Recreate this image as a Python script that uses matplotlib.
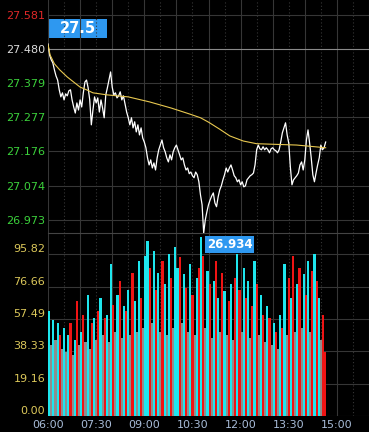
import matplotlib
matplotlib.use("Agg")
import matplotlib.pyplot as plt
from matplotlib.patches import Rectangle

# minutes after 06:00, one price every 3 minutes
price = [
    27.495, 27.462, 27.448, 27.439, 27.418, 27.400, 27.388, 27.359, 27.338, 27.350,
    27.329, 27.347, 27.341, 27.356, 27.359, 27.329, 27.308, 27.290, 27.320, 27.299,
    27.329, 27.308, 27.350, 27.382, 27.388, 27.365, 27.329, 27.255, 27.299, 27.338,
    27.320, 27.335, 27.293, 27.329, 27.305, 27.276, 27.344, 27.365, 27.388, 27.412,
    27.367, 27.344, 27.350, 27.335, 27.341, 27.353, 27.329, 27.341, 27.317, 27.293,
    27.276, 27.255, 27.276, 27.246, 27.264, 27.234, 27.255, 27.225, 27.246, 27.216,
    27.204, 27.187, 27.157, 27.136, 27.151, 27.127, 27.142, 27.121, 27.157, 27.181,
    27.195, 27.210, 27.187, 27.175, 27.157, 27.145, 27.166, 27.151, 27.175, 27.187,
    27.195, 27.181, 27.166, 27.151, 27.157, 27.136, 27.121, 27.127, 27.110, 27.115,
    27.104, 27.098, 27.115, 27.107, 27.086, 27.047, 27.018, 26.934, 26.973, 26.997,
    27.018, 27.032, 27.044, 27.053, 27.023, 27.012, 27.041, 27.062, 27.074, 27.092,
    27.107, 27.127, 27.115, 27.127, 27.136, 27.121, 27.104, 27.098, 27.086, 27.092,
    27.077, 27.086, 27.071, 27.074, 27.092, 27.098, 27.104, 27.107, 27.112, 27.136,
    27.181, 27.195, 27.184, 27.181, 27.190, 27.181, 27.187, 27.181, 27.172, 27.184,
    27.187, 27.181, 27.178, 27.172, 27.181, 27.204, 27.231, 27.246, 27.261, 27.225,
    27.201, 27.130, 27.077, 27.092, 27.098, 27.104, 27.112, 27.136, 27.145, 27.121,
    27.151, 27.210, 27.240, 27.201, 27.157, 27.107, 27.086, 27.112, 27.136, 27.157,
    27.195, 27.181, 27.187, 27.204,
]
price_t = [3 * i for i in range(len(price))]

avg_t = [0, 4, 12, 22, 36, 48, 60, 72, 84, 110, 150, 190, 230, 265, 285, 300,
         320, 340, 365, 390, 465, 519]
avg = [27.492, 27.462, 27.436, 27.418, 27.397, 27.382, 27.367, 27.359, 27.350,
       27.344, 27.338, 27.323, 27.305, 27.287, 27.276, 27.263, 27.243, 27.222,
       27.207, 27.199, 27.195, 27.187]

# one volume bar every 4 minutes; c = down (cyan), r = up (red), g = flat
vol = [
    62, 42, 57, 45, 55, 48, 40, 52, 38, 48, 55, 36, 45,
    68, 42, 50, 60, 44, 72, 40, 55,
    58, 45, 62, 70, 48, 58, 60, 44,
    90, 66, 50, 72, 80, 46, 65,
    62, 75, 48, 85, 68, 50, 92, 70, 52, 95,
    104, 88, 55, 98, 75, 85, 50, 92, 78, 48,
    96, 82, 52, 100, 88, 94, 55, 84, 76, 50,
    90, 72, 48, 82, 88, 106, 95, 52, 86, 78,
    46, 80, 92, 70, 50, 85, 74, 48, 68, 78,
    45, 82, 96, 75, 50, 88, 70, 80, 46, 65,
    92, 78, 48, 72, 60, 44, 65, 58, 42, 55,
    50, 40, 60, 52, 90, 48, 82, 70, 95, 50,
    78, 88, 52, 84, 72, 92, 50, 86, 96, 80,
    70, 45, 60, 38,
]
vol_col = (
    "cgcgcrgcgcrgc"
    "rgcrgcgr"
    "cgrcgrcg"
    "crgcrgc"
    "rcgrcgcrgc"
    "crgcrcgrcg"
    "crgccrgcrg"
    "crgcrcrgcr"
    "gcrcgrcgrc"
    "grcrgcrcgr"
    "crgcrgcrgc"
    "rgcrcgrcrg"
    "crgcrcgrcr"
    "cgrr"
)
vol_t = [4 * i for i in range(len(vol))]

price_ticks = [27.581, 27.480, 27.379, 27.277, 27.176, 27.074, 26.973]
price_tick_colors = ["#e02828", "#dcdcdc"] + ["#3cd23c"] * 5
vol_ticks = [95.82, 76.66, 57.49, 38.33, 19.16, 0.00]
time_ticks = [0, 90, 180, 270, 360, 450, 540]
time_labels = ["06:00", "07:30", "09:00", "10:30", "12:00", "13:30", "15:00"]

colors = {"c": "#1ee6ee", "r": "#f01414", "g": "#8e8e8e"}
grid_c = "#363636"

W, H = 369, 432
fig = plt.figure(figsize=(W / 100, H / 100), dpi=100, facecolor="black")


def box(l, t, r, b):
    return [l / W, 1 - b / H, (r - l) / W, (b - t) / H]


ax_p = fig.add_axes(box(48, 0, 369, 233))
ax_v = fig.add_axes(box(48, 233, 369, 416))

for ax in (ax_p, ax_v):
    ax.set_facecolor("black")
    ax.set_xlim(0, 600)
    for s in ax.spines.values():
        s.set_visible(False)
    for t in range(0, 601, 30):
        ax.axvline(t, color=grid_c, lw=0.8,
                   ls="-" if t % 60 == 0 else (0, (1, 2)), zorder=0)
    ax.tick_params(length=0, labelsize=8, pad=2)

ax_p.set_zorder(2)
ax_p.patch.set_alpha(0)

# price pane
for v in price_ticks:
    ax_p.axhline(v, color="#8a8a8a" if v == 27.480 else grid_c, lw=0.8, zorder=0)
ax_p.plot(price_t, price, color="white", lw=0.9, zorder=3)
ax_p.plot(avg_t, avg, color="#e8c850", lw=0.8, zorder=4)
ax_p.set_ylim(26.934, 27.6255)
ax_p.set_xticks([])
ax_p.set_yticks(price_ticks)
ax_p.set_yticklabels(["%.3f" % v for v in price_ticks])
for lbl, c in zip(ax_p.get_yticklabels(), price_tick_colors):
    lbl.set_color(c)

# min price tag
i_min = price.index(min(price))
ax_p.annotate("%.3f" % price[i_min], xy=(price_t[i_min], price[i_min]),
              xytext=(3, -5), textcoords="offset pixels", ha="left", va="top",
              color="white", fontsize=8.5, fontweight="bold", zorder=6,
              annotation_clip=False,
              bbox=dict(boxstyle="square,pad=0.15", fc="#2e98f0", ec="none"))

# volume pane
ax_v.spines["top"].set_visible(True)
ax_v.spines["top"].set_color("#444444")
for v in vol_ticks:
    ax_v.axhline(v, color=grid_c, lw=0.8, zorder=0)
ax_v.bar(vol_t, vol, width=4, align="edge",
         color=[colors[c] for c in vol_col], lw=0, zorder=2)
ax_v.set_ylim(0, 108.5)
ax_v.set_yticks(vol_ticks)
ax_v.set_yticklabels(["%.2f" % v for v in vol_ticks], va="bottom")
for lbl in ax_v.get_yticklabels():
    lbl.set_color("#dcc85a")
ax_v.set_xticks(time_ticks)
ax_v.set_xticklabels(time_labels, color="#a8bcd8")
ax_v.tick_params(axis="x", pad=3)

# tag at the top left
fig.add_artist(Rectangle((48 / W, 1 - 38 / H), 59 / W, 19 / H,
                         transform=fig.transFigure, fc="#2e98f0", ec="none"))
fig.text(77.5 / W, 1 - 28.5 / H, "27.5", color="white", fontsize=10.5,
         fontweight="bold", ha="center", va="center")

fig.savefig("out.png", dpi=100, facecolor="black")
